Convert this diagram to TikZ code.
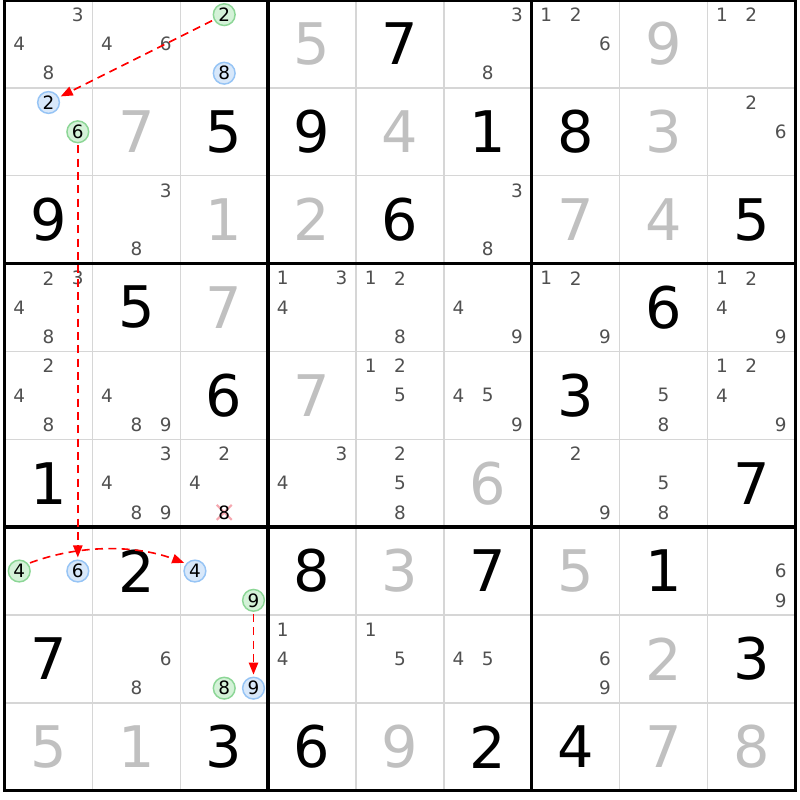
\documentclass[tikz,border=0pt]{standalone}
\usepackage{fontspec}
\setmainfont{DejaVu Sans}
\usetikzlibrary{arrows.meta}
\definecolor{solvedgray}{RGB}{192,192,192}
\definecolor{candgray}{RGB}{80,80,80}
\definecolor{thingray}{RGB}{214,214,214}
\definecolor{greenfill}{RGB}{212,242,216}
\definecolor{greenline}{RGB}{140,214,150}
\definecolor{bluefill}{RGB}{216,232,250}
\definecolor{blueline}{RGB}{150,196,245}
\definecolor{elimpink}{RGB}{246,168,176}
\definecolor{chainred}{RGB}{255,0,0}
\def\ox{4.6}
\def\oy{0}
\def\cs{87.85}
\begin{document}
\begin{tikzpicture}[x=0.75pt,y=0.75pt,
  given/.style={font=\fontsize{43}{43}\selectfont, text=black, inner sep=0pt},
  solved/.style={given, text=solvedgray},
  cand/.style={font=\fontsize{13.8}{13.8}\selectfont, text=candgray, inner sep=0pt},
  oncand/.style={cand, text=black, circle, minimum size=16.3pt, line width=1.1pt},
  ongreen/.style={oncand, draw=greenline, fill=greenfill},
  onblue/.style={oncand, draw=blueline, fill=bluefill},
  elimcand/.style={cand, text=black},
  elimx/.style={draw=elimpink, line width=1.6pt},
  chain/.style={draw=chainred, line width=1.2pt, dash pattern=on 6pt off 4pt,
    -{Triangle[length=9pt,width=7pt]}, shorten >=1.5pt, shorten <=1.5pt},
  thinline/.style={draw=thingray, line width=1.1pt},
  thickline/.style={draw=black, line width=2.6pt},
]
\useasboundingbox (0,0) rectangle (800,-800);
\fill[white] (0,0) rectangle (800,-800);

% thin grid lines
\foreach \i in {1,2,4,5,7,8} {
  \draw[thinline] ({\ox+\cs*\i},{-\oy}) -- ({\ox+\cs*\i},{-(\oy+9*\cs)});
  \draw[thinline] (\ox,{-(\oy+\cs*\i)}) -- ({\ox+9*\cs},{-(\oy+\cs*\i)});
}
% thick box lines
\foreach \i in {3,6} {
  \draw[thickline] ({\ox+\cs*\i},{-\oy}) -- ({\ox+\cs*\i},{-(\oy+9*\cs)});
  \draw[thickline] (\ox,{-(\oy+\cs*\i)}) -- ({\ox+9*\cs},{-(\oy+\cs*\i)});
}
\draw[thickline] (\ox,{-\oy}) rectangle ({\ox+9*\cs},{-(\oy+9*\cs)});

% givens
\foreach \r/\c/\d in {0/4/7, 1/2/5, 1/3/9, 1/5/1, 1/6/8, 2/0/9, 2/4/6, 2/8/5,
  3/1/5, 3/7/6, 4/2/6, 4/6/3, 5/0/1, 5/8/7, 6/1/2, 6/3/8, 6/5/7, 6/7/1,
  7/0/7, 7/8/3, 8/2/3, 8/3/6, 8/5/2, 8/6/4} {
  \pgfmathsetmacro\px{\ox+\cs*\c+\cs/2}
  \pgfmathsetmacro\py{-(\oy+\cs*\r+\cs/2)}
  \node[given] (val-\r-\c) at (\px,\py) {\d};
}
% solved
\foreach \r/\c/\d in {0/3/5, 0/7/9, 1/1/7, 1/4/4, 1/7/3, 2/2/1, 2/3/2, 2/6/7,
  2/7/4, 3/2/7, 4/3/7, 5/5/6, 6/4/3, 6/6/5, 7/7/2, 8/0/5, 8/1/1, 8/4/9,
  8/7/7, 8/8/8} {
  \pgfmathsetmacro\px{\ox+\cs*\c+\cs/2}
  \pgfmathsetmacro\py{-(\oy+\cs*\r+\cs/2)}
  \node[solved] (val-\r-\c) at (\px,\py) {\d};
}
% candidates
\foreach \r/\c/\ds in {0/0/{3,4,8}, 0/1/{4,6}, 0/5/{3,8}, 0/6/{1,2,6}, 0/8/{1,2},
  1/8/{2,6}, 2/1/{3,8}, 2/5/{3,8},
  3/0/{2,3,4,8}, 3/3/{1,3,4}, 3/4/{1,2,8}, 3/5/{4,9}, 3/6/{1,2,9}, 3/8/{1,2,4,9},
  4/0/{2,4,8}, 4/1/{4,8,9}, 4/4/{1,2,5}, 4/5/{4,5,9}, 4/7/{5,8}, 4/8/{1,2,4,9},
  5/1/{3,4,8,9}, 5/2/{2,4}, 5/3/{3,4}, 5/4/{2,5,8}, 5/6/{2,9}, 5/7/{5,8},
  6/8/{6,9}, 7/1/{6,8}, 7/3/{1,4}, 7/4/{1,5}, 7/5/{4,5}, 7/6/{6,9}} {
  \foreach \d in \ds {
    \pgfmathsetmacro\px{\ox+\cs*\c+\cs/6+\cs/3*mod(\d-1,3)}
    \pgfmathsetmacro\py{-(\oy+\cs*\r+\cs/6+\cs/3*floor((\d-1)/3))}
    \node[cand] (cand-\r-\c-\d) at (\px,\py) {\d};
  }
}
% eliminated candidate
\pgfmathsetmacro\px{\ox+\cs*2+\cs/6+\cs/3*1}
\pgfmathsetmacro\py{-(\oy+\cs*5+\cs/6+\cs/3*2)}
\coordinate (elim) at (\px,\py);
\draw[elimx] (elim) +(-7.5,-7.5) -- +(7.5,7.5);
\draw[elimx] (elim) +(-7.5,7.5) -- +(7.5,-7.5);
\node[elimcand] (cand-5-2-8) at (elim) {8};

% green-marked candidates
\foreach \r/\c/\d in {0/2/2, 1/0/6, 6/0/4, 6/2/9, 7/2/8} {
  \pgfmathsetmacro\px{\ox+\cs*\c+\cs/6+\cs/3*mod(\d-1,3)}
  \pgfmathsetmacro\py{-(\oy+\cs*\r+\cs/6+\cs/3*floor((\d-1)/3))}
  \node[ongreen] (cand-\r-\c-\d) at (\px,\py) {\d};
}
% blue-marked candidates
\foreach \r/\c/\d in {0/2/8, 1/0/2, 6/0/6, 6/2/4, 7/2/9} {
  \pgfmathsetmacro\px{\ox+\cs*\c+\cs/6+\cs/3*mod(\d-1,3)}
  \pgfmathsetmacro\py{-(\oy+\cs*\r+\cs/6+\cs/3*floor((\d-1)/3))}
  \node[onblue] (cand-\r-\c-\d) at (\px,\py) {\d};
}

% chain
\draw[chain] (cand-0-2-2) -- (cand-1-0-2);
\draw[chain] (cand-1-0-6) -- (cand-6-0-6);
\draw[chain] (cand-6-0-4.40) .. controls +(51,19) and +(-51,19) .. (cand-6-2-4.140);
\draw[chain] (cand-6-2-9) -- (cand-7-2-9);
\end{tikzpicture}
\end{document}
